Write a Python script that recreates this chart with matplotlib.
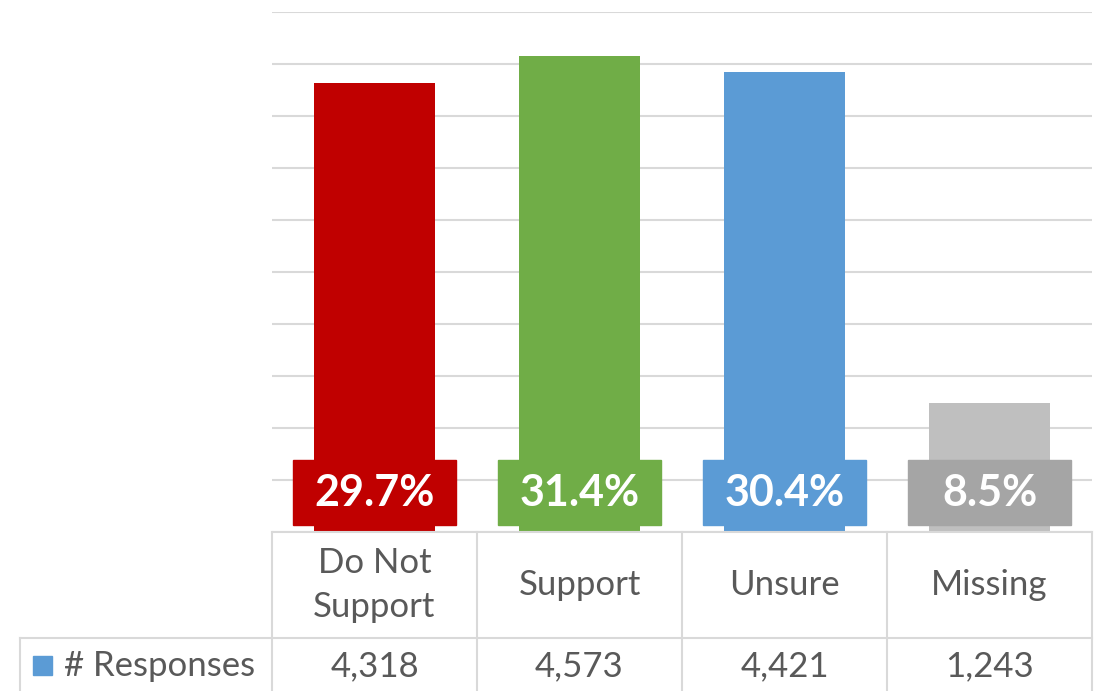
import matplotlib.pyplot as plt
import matplotlib.transforms as mtransforms
from matplotlib.patches import Rectangle

categories = ["Do Not\nSupport", "Support", "Unsure", "Missing"]
responses = [4318, 4573, 4421, 1243]
percents = ["29.7%", "31.4%", "30.4%", "8.5%"]
bar_colors = ["#C00000", "#70AD47", "#5B9BD5", "#BFBFBF"]
box_colors = ["#C00000", "#70AD47", "#5B9BD5", "#A5A5A5"]
series_name = "# Responses"
series_color = "#5B9BD5"

W, H = 1102, 691
fig = plt.figure(figsize=(W / 100, H / 100), dpi=100)
ax = fig.add_axes([272 / W, 1 - 532 / H, 820 / W, 520 / H])

x = list(range(len(categories)))
ax.bar(x, responses, width=0.59, color=bar_colors, zorder=2)
ax.set_xlim(-0.5, len(categories) - 0.5)
ax.set_ylim(0, 5000)
ax.set_yticks(range(0, 5001, 500))
ax.yaxis.grid(True, color="#D9D9D9", linewidth=1.5, zorder=0)
ax.tick_params(left=False, bottom=False, labelleft=False, labelbottom=False)
for s in ax.spines.values():
    s.set_visible(False)

# percentage labels in coloured boxes
for i, (p, c) in enumerate(zip(percents, box_colors)):
    ax.add_patch(Rectangle((i - 0.397, 67), 0.795, 625, color=c, zorder=3))
    ax.text(i, 375, p, ha="center", va="center", color="white",
            fontsize=31, fontweight="bold", family="Lato", zorder=4)

# data table below the plot
tr = mtransforms.blended_transform_factory(ax.transData, ax.transAxes)
grid_c = "#D9D9D9"
row1 = -(638 - 532) / 520
row2 = -(700 - 532) / 520
ax.plot([-0.5, 3.5], [0, 0], transform=tr, color=grid_c, lw=1.5, clip_on=False)
left_x = -0.5 - (272 - 20) / 205
ax.plot([left_x, 3.5], [row1, row1], transform=tr, color=grid_c, lw=1.5, clip_on=False)
for b in [-0.5, 0.5, 1.5, 2.5, 3.5]:
    ax.plot([b, b], [0, row2], transform=tr, color=grid_c, lw=1.5, clip_on=False)
ax.plot([left_x, left_x], [row1, row2], transform=tr, color=grid_c, lw=1.5, clip_on=False)

text_c = "#595959"
for i, (cat, n) in enumerate(zip(categories, responses)):
    ax.text(i, -(585 - 532) / 520, cat, transform=tr, ha="center", va="center",
            fontsize=25, color=text_c, family="Lato", linespacing=1.45)
    ax.text(i, -(666 - 532) / 520, f"{n:,}", transform=tr, ha="center", va="center",
            fontsize=25, color=text_c, family="Lato")

fig.add_artist(Rectangle((33 / W, 1 - 675 / H), 19 / W, 19 / H, color=series_color,
                         transform=fig.transFigure))
fig.text(64 / W, 1 - 666 / H, series_name, ha="left", va="center",
         fontsize=25, color=text_c, family="Lato")

fig.savefig("out.png", dpi=100)
